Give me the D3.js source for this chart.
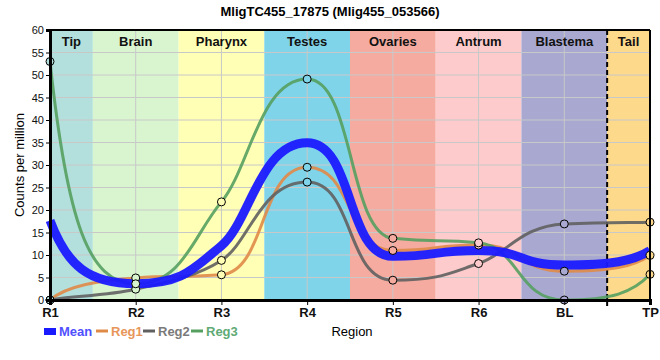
<!DOCTYPE html>
<html><head><meta charset="utf-8">
<script src="https://cdn.jsdelivr.net/npm/d3@7"></script>
<style>body{margin:0;background:#fff}svg{display:block;font-family:"Liberation Sans",Arial,sans-serif}</style>
</head><body><svg id="c" width="660" height="360"></svg>
<script>
const categories = ["R1","R2","R3","R4","R5","R6","BL","TP"];
const reg1 = [0, 4.9, 5.6, 29.5, 11.0, 12.2, 6.4, 9.9];
const reg2 = [0, 2.4, 8.8, 26.2, 4.4, 8.1, 16.9, 17.3];
const reg3 = [53, 3.6, 21.8, 49.1, 13.7, 12.7, 0, 5.7];
const mean = categories.map((c,i)=> (reg1[i]+reg2[i]+reg3[i])/3);
const regions = ["Tip","Brain","Pharynx","Testes","Ovaries","Antrum","Blastema","Tail"];
const regionColors = ["#b3e0dc","#d9f5d0","#ffffb5","#80d4ea","#f5aba0","#fdcbcc","#a8a8d0","#fdd98c"];
const yTicks = d3.range(0, 61, 5);
const title = "MligTC455_17875 (Mlig455_053566)";

// custom d3 curve: monotone tangents, long handles at flat points
function SmoothCurve(context){ this._context = context; }
SmoothCurve.prototype = {
  areaStart(){}, areaEnd(){},
  lineStart(){ this._xs = []; this._ys = []; },
  point(x,y){ this._xs.push(+x); this._ys.push(+y); },
  lineEnd(){
    const X = this._xs, Y = this._ys, n = X.length, c = this._context;
    if (!n) return;
    c.moveTo(X[0], Y[0]);
    if (n < 2) return;
    const s = [];
    for (let i=0;i<n-1;i++) s.push((Y[i+1]-Y[i])/(X[i+1]-X[i]));
    const m = new Array(n), a = new Array(n);
    for (let i=1;i<n-1;i++){
      const s0=s[i-1], s1=s[i], p=(s0+s1)/2;
      m[i] = (Math.sign(s0)+Math.sign(s1)) * Math.min(Math.abs(s0), Math.abs(s1), 0.5*Math.abs(p)) || 0;
      const mx = Math.max(Math.abs(s0), Math.abs(s1)) || 1;
      const r = Math.abs(m[i]) / mx;
      a[i] = 0.55 - 0.22*Math.min(1, 2*r);
    }
    if (n === 2){ m[0]=m[1]=s[0]; a[0]=a[1]=1/3; }
    else {
      m[0] = 3.6*s[0] - m[1]; a[0] = 0.2;
      m[n-1] = 3.6*s[n-2] - m[n-2]; a[n-1] = 0.2;
    }
    for (let i=0;i<n-1;i++){
      const D = X[i+1]-X[i];
      c.bezierCurveTo(X[i]+a[i]*D, Y[i]+a[i]*D*m[i], X[i+1]-a[i+1]*D, Y[i+1]-a[i+1]*D*m[i+1], X[i+1], Y[i+1]);
    }
  }
};
const smoothCurve = ctx => new SmoothCurve(ctx);

const svg = d3.select("#c");
const L=50, R=650, T=30, B=300;
const x = d3.scalePoint().domain(categories).range([L,R]);
const y = d3.scaleLinear().domain([0,60]).range([B,T]);
const step = x.step();

const bands = regions.map((r,i)=>{
  const x0 = i===0 ? L : x(categories[i]) - step/2;
  const x1 = i===regions.length-1 ? R : x(categories[i]) + step/2;
  return {name:r, x0, x1, color:regionColors[i]};
});
svg.append("g").selectAll("rect").data(bands).join("rect")
  .attr("x",d=>d.x0).attr("y",T).attr("width",d=>d.x1-d.x0).attr("height",B-T)
  .attr("fill",d=>d.color);

svg.append("g").selectAll("line").data(yTicks).join("line")
  .attr("x1",L).attr("x2",R).attr("y1",d=>y(d)).attr("y2",d=>y(d))
  .attr("stroke","#c8c8c8").attr("stroke-width",1);
svg.append("g").selectAll("line").data(categories).join("line")
  .attr("x1",d=>x(d)).attr("x2",d=>x(d)).attr("y1",T).attr("y2",B)
  .attr("stroke","#c8c8c8").attr("stroke-width",1);

svg.append("g").selectAll("text").data(bands).join("text")
  .attr("x",d=>(d.x0+d.x1)/2).attr("y",T+16).attr("text-anchor","middle")
  .attr("font-size",13).attr("font-weight","bold").attr("fill","#111").text(d=>d.name);

const xd = bands[bands.length-1].x0;
svg.append("line").attr("x1",xd).attr("x2",xd).attr("y1",T).attr("y2",B+6)
  .attr("stroke","#000").attr("stroke-width",2).attr("stroke-dasharray","5,3");

const line = d3.line().x((d,i)=>x(categories[i])).y(d=>y(d)).curve(smoothCurve);
const series = [
  {name:"Reg1", vals:reg1, color:"#e08a48"},
  {name:"Reg2", vals:reg2, color:"#606060"},
  {name:"Reg3", vals:reg3, color:"#55a060"}
];
svg.append("g").selectAll("path").data(series).join("path")
  .attr("d",d=>line(d.vals)).attr("fill","none").attr("stroke",d=>d.color)
  .attr("stroke-width",3).attr("stroke-opacity",0.9);
svg.append("path").attr("d",line(mean)).attr("fill","none")
  .attr("stroke","#1a1aff").attr("stroke-width",9).attr("stroke-opacity",0.95);

const pts = [];
series.forEach(s=>s.vals.forEach((v,i)=>pts.push({i,v})));
svg.append("g").selectAll("circle").data(pts).join("circle")
  .attr("cx",d=>x(categories[d.i])).attr("cy",d=>y(d.v)).attr("r",4)
  .attr("fill",d=>regionColors[d.i]).attr("stroke","#000").attr("stroke-width",1);

svg.append("line").attr("x1",L).attr("x2",R).attr("y1",T).attr("y2",T).attr("stroke","#000").attr("stroke-width",2);
svg.append("line").attr("x1",R).attr("x2",R).attr("y1",T).attr("y2",B).attr("stroke","#000").attr("stroke-width",2);

const ya = svg.append("g").attr("transform",`translate(${L},0)`)
  .call(d3.axisLeft(y).tickValues(yTicks).tickSize(4).tickPadding(2));
ya.select(".domain").attr("stroke","#000").attr("stroke-width",3);
ya.selectAll("text").attr("font-size",11).attr("fill","#111").attr("font-family","Liberation Sans, Arial");
const xa = svg.append("g").attr("transform",`translate(0,${B})`)
  .call(d3.axisBottom(x).tickSize(5).tickPadding(3));
xa.select(".domain").attr("stroke","#000").attr("stroke-width",3);
xa.selectAll("text").attr("font-size",13).attr("font-weight","bold").attr("fill","#111").attr("font-family","Liberation Sans, Arial");

svg.append("text").attr("x",330).attr("y",16).attr("text-anchor","middle")
  .attr("font-size",13).attr("font-weight","bold").text(title);
svg.append("text").attr("transform","translate(24,165) rotate(-90)").attr("text-anchor","middle")
  .attr("font-size",13).text("Counts per million");
svg.append("text").attr("x",352).attr("y",336).attr("text-anchor","middle")
  .attr("font-size",13).text("Region");

const leg = [
  {name:"Mean", color:"#1a1aff", text:"#5050ff", x:44, rect:true},
  {name:"Reg1", color:"#e08a48", text:"#e8965a", x:96},
  {name:"Reg2", color:"#606060", text:"#7a7a7a", x:143},
  {name:"Reg3", color:"#55a060", text:"#60aa75", x:191}
];
const lg = svg.append("g").selectAll("g").data(leg).join("g").attr("transform",d=>`translate(${d.x},331)`);
lg.each(function(d){
  const g = d3.select(this);
  if(d.rect) g.append("rect").attr("x",0).attr("y",-3).attr("width",12).attr("height",7).attr("fill",d.color);
  else g.append("line").attr("x1",0).attr("x2",12).attr("y1",0).attr("y2",0).attr("stroke",d.color).attr("stroke-width",3);
  g.append("text").attr("x",15).attr("y",5).attr("font-size",13).attr("font-weight","bold").attr("fill",d.text).text(d.name);
});
</script></body></html>
